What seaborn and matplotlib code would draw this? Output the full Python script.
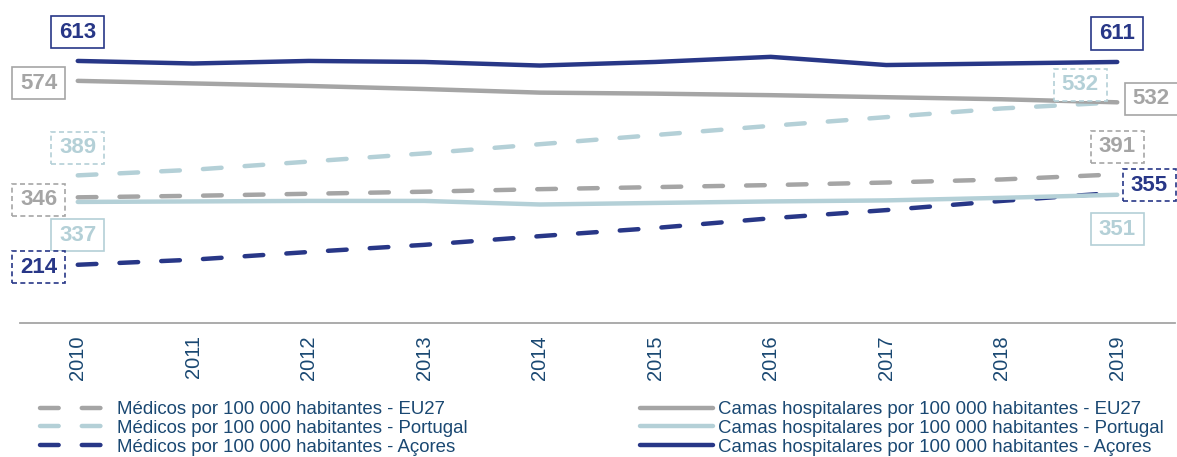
import numpy as np
import pandas as pd
import matplotlib
matplotlib.use("Agg")
import matplotlib.pyplot as plt
import seaborn as sns
from matplotlib.path import Path

# ---------------- data ----------------
years = [2010, 2011, 2012, 2013, 2014, 2015, 2016, 2017, 2018, 2019]
medicos_eu27 = [346, 349, 353, 357, 362, 366, 370, 375, 381, 391]
medicos_portugal = [389, 400, 416, 432, 450, 468, 486, 503, 520, 532]
medicos_acores = [214, 224, 239, 253, 270, 286, 305, 321, 339, 355]
camas_eu27 = [574, 569, 564, 558, 551, 549, 546, 542, 538, 532]
camas_portugal = [337, 338, 339, 339, 332, 335, 338, 340, 345, 351]
camas_acores = [613, 608, 613, 611, 604, 611, 621, 605, 608, 611]

labels = [
    "Médicos por 100 000 habitantes - EU27",
    "Médicos por 100 000 habitantes - Portugal",
    "Médicos por 100 000 habitantes - Açores",
    "Camas hospitalares por 100 000 habitantes - EU27",
    "Camas hospitalares por 100 000 habitantes - Portugal",
    "Camas hospitalares por 100 000 habitantes - Açores",
]

GRAY = "#A5A5A5"
LIGHT = "#B4D0D7"
NAVY = "#283787"
TEXT = "#1A4872"

sns.set_style("white")
plt.rcParams["font.family"] = ["Liberation Sans", "DejaVu Sans"]

fig = plt.figure(figsize=(11.77, 4.57), dpi=100)
W, H = 1177, 457
ax = fig.add_axes([20 / W, 1 - 323 / H, 1155 / W, (323 - 16.5) / H])

LW = 3.2
DASH = (0, (4.2, 5.2))
series = [
    (medicos_eu27, GRAY, DASH),
    (medicos_portugal, LIGHT, DASH),
    (medicos_acores, NAVY, DASH),
    (camas_eu27, GRAY, "-"),
    (camas_portugal, LIGHT, "-"),
    (camas_acores, NAVY, "-"),
]
for (vals, col, ls), lab in zip(series, labels):
    sns.lineplot(x=years, y=vals, color=col, linewidth=LW, linestyle=ls,
                 dash_capstyle="round", solid_capstyle="round",
                 label=lab, ax=ax, legend=True)

ax.set_xlim(2009.5, 2019.5)
ax.set_ylim(100, 700)
ax.set_xlabel("")
ax.set_ylabel("")
for s in ["top", "right", "left"]:
    ax.spines[s].set_visible(False)
ax.spines["bottom"].set_color(GRAY)
ax.spines["bottom"].set_linewidth(1.3)
ax.set_yticks([])
ax.set_xticks(years)
ax.set_xticklabels([str(y) for y in years], rotation=90, fontsize=14.5, color=TEXT)
ax.tick_params(axis="x", which="major", length=0, pad=9)
ax.set_xticks([y - 0.5 for y in years] + [years[-1] + 0.5], minor=True)
ax.tick_params(axis="x", which="minor", length=4, width=1.3, color=GRAY, direction="out")


def fixed_box(x0, y0, width, height, mutation_size):
    px = 0.36 * mutation_size
    py = 0.25 * mutation_size
    x0 -= px
    y0 -= py
    x1 = x0 + width + 2 * px
    y1 = y0 + height + 2 * py
    return Path([(x0, y0), (x1, y0), (x1, y1), (x0, y1), (x0, y0)], closed=True)


def label(year_idx, vals, col, dashed, dx, dy):
    v = vals[year_idx]
    ax.annotate(f"{v}", xy=(years[year_idx], v), xytext=(dx * 0.72, dy * 0.72),
                textcoords="offset points", ha="center", va="center_baseline",
                fontsize=16, fontweight="bold", color=col, annotation_clip=False,
                bbox=dict(boxstyle=fixed_box, facecolor="white", edgecolor=col,
                          linewidth=1.2, linestyle=(0, (3, 2)) if dashed else "-"),
                zorder=5)

# 2010 labels (pixel offsets)
label(0, camas_acores, NAVY, False, 0, 31)
label(0, camas_eu27, GRAY, False, -39, 0)
label(0, medicos_portugal, LIGHT, True, 0, 30)
label(0, medicos_eu27, GRAY, True, -39, 0)
label(0, camas_portugal, LIGHT, False, 0, -31)
label(0, medicos_acores, NAVY, True, -39, 0)
# 2019 labels
label(9, camas_acores, NAVY, False, 0, 31)
label(9, camas_eu27, GRAY, False, 34, 6)
label(9, medicos_portugal, LIGHT, True, -37, 20)
label(9, medicos_eu27, GRAY, True, 0, 30)
label(9, medicos_acores, NAVY, True, 32, 10)
label(9, camas_portugal, LIGHT, False, 0, -32)

handles, labs = ax.get_legend_handles_labels()
ax.get_legend().remove()
fig.legend(handles[:3], labs[:3], loc="upper left",
           bbox_to_anchor=(40 / W, 1 - 401 / H), frameon=False,
           fontsize=13.4, borderpad=0, borderaxespad=0, handlelength=3.5,
           handletextpad=0.65, labelspacing=0.1, labelcolor=TEXT)
fig.legend(handles[3:], labs[3:], loc="upper left",
           bbox_to_anchor=(640 / W, 1 - 401 / H), frameon=False,
           fontsize=13.4, borderpad=0, borderaxespad=0, handlelength=3.9,
           handletextpad=0.3, labelspacing=0.1, labelcolor=TEXT)

fig.savefig("out.png", dpi=100)
